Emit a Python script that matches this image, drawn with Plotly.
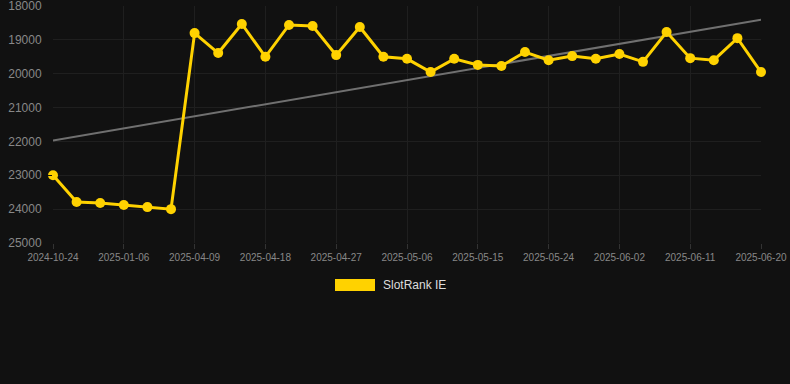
import numpy as np
import plotly.graph_objects as go

dates = [
    "2024-10-24", "2024-11-18", "2024-12-12", "2025-01-06", "2025-02-05", "2025-03-07",
    "2025-04-09", "2025-04-12", "2025-04-15", "2025-04-18", "2025-04-21", "2025-04-24",
    "2025-04-27", "2025-04-30", "2025-05-03", "2025-05-06", "2025-05-09", "2025-05-12",
    "2025-05-15", "2025-05-18", "2025-05-21", "2025-05-24", "2025-05-27", "2025-05-30",
    "2025-06-02", "2025-06-05", "2025-06-08", "2025-06-11", "2025-06-14", "2025-06-17",
    "2025-06-20",
]
ranks = [
    23000, 23790, 23820, 23880, 23940, 24000,
    18800, 19390, 18530, 19500, 18560, 18590,
    19450, 18620, 19500, 19560, 19950, 19560,
    19740, 19770, 19360, 19600, 19480, 19560,
    19420, 19650, 18770, 19540, 19600, 18950,
    19950,
]
tick_dates = dates[::3]
y_ticks = [18000, 19000, 20000, 21000, 22000, 23000, 24000, 25000]
series_name = "SlotRank IE"

idx = np.arange(len(ranks))
slope, intercept = np.polyfit(idx, ranks, 1)
trend = slope * idx + intercept

GOLD = "#FFD200"
BG = "#111111"

fig = go.Figure()
fig.add_trace(go.Scatter(
    x=dates, y=trend, mode="lines",
    line=dict(color="#707070", width=2),
    hoverinfo="skip", showlegend=False,
))
fig.add_trace(go.Scatter(
    x=dates, y=ranks, mode="lines+markers", name=series_name,
    line=dict(color=GOLD, width=3),
    marker=dict(color=GOLD, size=10),
    cliponaxis=False, showlegend=False,
))

fig.update_layout(
    width=790, height=384,
    paper_bgcolor=BG, plot_bgcolor=BG,
    margin=dict(l=53, r=29, t=6, b=141, autoexpand=False),
    font=dict(family="Liberation Sans, Arial, sans-serif", color="#888888"),
    showlegend=False,
)
fig.update_xaxes(
    type="category", range=[0, len(dates) - 1],
    tickmode="array", tickvals=tick_dates, ticktext=tick_dates,
    showgrid=True, gridcolor="#1f1f1f", gridwidth=1,
    zeroline=False, showline=False,
    ticks="outside", ticklen=5, tickcolor="#333333",
    tickfont=dict(size=10, color="#888888"),
    ticklabeloverflow="allow", automargin=False,
)
fig.update_yaxes(
    range=[25000, 18000],
    tickmode="array", tickvals=y_ticks, ticktext=[str(v) for v in y_ticks],
    showgrid=True, gridcolor="#1f1f1f", gridwidth=1,
    zeroline=False, showline=False,
    ticks="outside", ticklen=8, tickcolor=BG,
    tickfont=dict(size=12, color="#888888"),
    ticklabeloverflow="allow", automargin=False,
)

# legend (drawn manually to match the rectangular swatch)
fig.add_shape(type="rect", xref="paper", yref="paper",
              x0=(335 - 53) / 708, x1=(375 - 53) / 708,
              y0=-(291 - 243) / 237, y1=-(279 - 243) / 237,
              fillcolor=GOLD, line=dict(width=0))
fig.add_annotation(xref="paper", yref="paper",
                   x=(381 - 53) / 708, y=-(285 - 243) / 237,
                   xanchor="left", yanchor="middle", showarrow=False,
                   text=series_name, font=dict(size=12, color="#dddddd"))

fig.write_html(
    "out.html",
    config={"displayModeBar": False},
    post_script="document.body.style.margin='0';document.body.style.background='#111111';",
)
